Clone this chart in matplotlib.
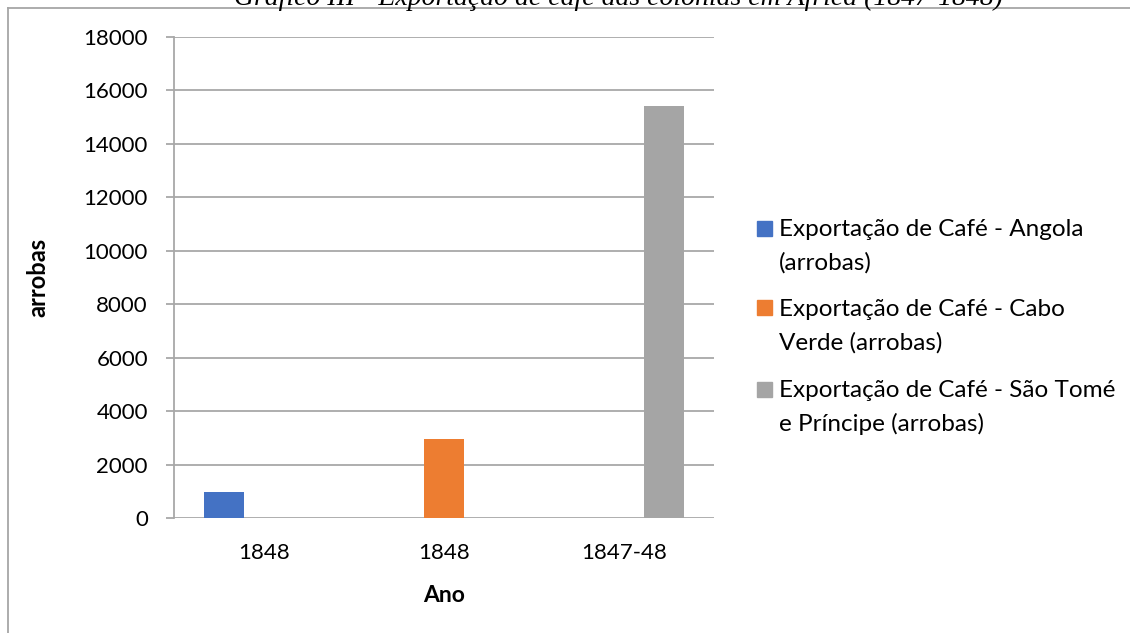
import matplotlib
matplotlib.use("Agg")
import matplotlib.pyplot as plt
from matplotlib.patches import Rectangle
from matplotlib.lines import Line2D
import numpy as np

# ---- data ----
categories = ["1848", "1848", "1847-48"]
series_names = [
    "Exportação de Café - Angola\n(arrobas)",
    "Exportação de Café - Cabo\nVerde (arrobas)",
    "Exportação de Café - São Tomé\ne Príncipe (arrobas)",
]
angola = [970, 0, 0]
cabo_verde = [0, 2950, 0]
sao_tome = [0, 0, 15400]
series_values = [angola, cabo_verde, sao_tome]
colors = ["#4472C4", "#ED7D31", "#A5A5A5"]
yticks = [0, 2000, 4000, 6000, 8000, 10000, 12000, 14000, 16000, 18000]
title = "Gráfico III - Exportação de café das colónias em África (1847-1848)"

W, H = 1130, 633
DPI = 100
plt.rcParams['font.family'] = ['Lato', 'DejaVu Sans']

fig = plt.figure(figsize=(W / DPI, H / DPI), dpi=DPI)

def fx(px):
    return px / W

def fy(py):
    return 1 - py / H

# plot area in pixels
L, R, T, B = 174, 714, 37, 518
ax = fig.add_axes([fx(L), fy(B), fx(R) - fx(L), fy(T) - fy(B)])

grid_c = "#A8A8A8"
x = np.arange(len(categories))
bw = 0.222
for i, (vals, c) in enumerate(zip(series_values, colors)):
    ax.bar(x + (i - 1) * bw, vals, width=bw, color=c, zorder=3)

ax.set_xlim(-0.5, len(categories) - 0.5)
ax.set_ylim(0, 18000)
ax.set_yticks(yticks)
ax.set_yticklabels([str(v) for v in yticks])
ax.set_xticks(x)
ax.set_xticklabels(categories)
ax.yaxis.grid(True, color=grid_c, linewidth=1.3, zorder=0)
ax.set_axisbelow(True)
for s in ["top", "right", "bottom"]:
    ax.spines[s].set_visible(False)
ax.spines["left"].set_color(grid_c)
ax.spines["left"].set_linewidth(1.3)
ax.tick_params(axis="y", length=8 * 0.72, width=1.3, color=grid_c,
               pad=13, labelsize=16, labelcolor="black")
ax.tick_params(axis="x", length=0, pad=18, labelsize=16, labelcolor="black")
ax.set_facecolor("none")

# axis titles
fig.text(fx(444), fy(595), "Ano", ha="center", va="center",
         fontsize=16.5, fontweight="bold")
fig.text(fx(38), fy(277), "arrobas", ha="center", va="center",
         fontsize=17, fontweight="bold", rotation=90)

# legend (manual)
entry_y = [228, 308, 389]
line_gap = 34
for name, c, yy in zip(series_names, colors, entry_y):
    fig.patches.append(Rectangle((fx(757), fy(yy + 7.5)), fx(15), 15 / H,
                                 transform=fig.transFigure, color=c))
    for j, line in enumerate(name.split("\n")):
        fig.text(fx(779), fy(yy + 8 + j * line_gap), line, ha="left",
                 va="baseline", fontsize=17.5)

# frame (chart border)
fig.add_artist(Line2D([fx(8), 1], [fy(8), fy(8)], transform=fig.transFigure,
                      color="#A6A6A6", linewidth=1.3))
fig.add_artist(Line2D([fx(8), fx(8)], [fy(8), 0], transform=fig.transFigure,
                      color="#A6A6A6", linewidth=1.3))

# title (cut off at top)
fig.text(fx(618), fy(-4), title, ha="center", va="center",
         fontsize=20, style="italic", family=["Liberation Serif", "DejaVu Serif"])

fig.savefig("out.png", dpi=DPI)
